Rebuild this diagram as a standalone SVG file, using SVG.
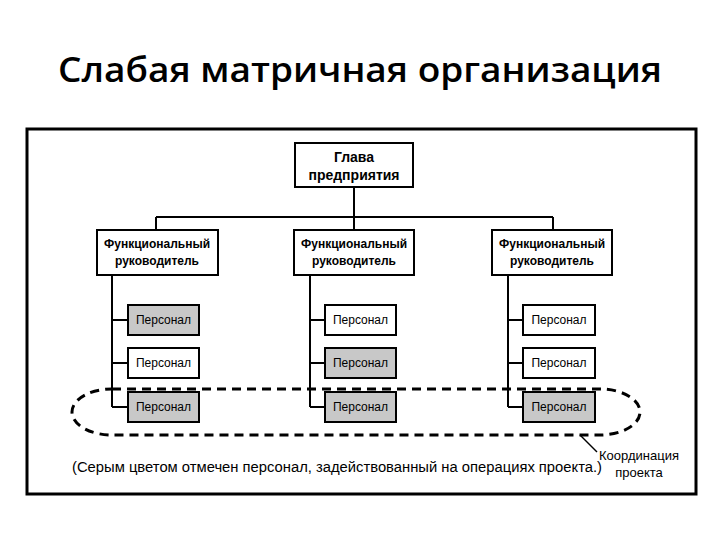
<svg xmlns="http://www.w3.org/2000/svg" width="720" height="540" viewBox="0 0 720 540">
<style>
.b{fill:#fff;stroke:#000;stroke-width:2}
.g{fill:#c8c8c8;stroke:#000;stroke-width:2}
.t{font-family:"Liberation Sans",Arial,sans-serif;font-size:12px;text-anchor:middle}
.tb{font-family:"Liberation Sans",Arial,sans-serif;font-size:12px;font-weight:bold;text-anchor:middle}
.l{fill:none;stroke:#000;stroke-width:2}
</style>
<rect width="720" height="540" fill="#fff"/>
<text x="360" y="82" font-family="Open Sans,sans-serif" font-size="35" font-weight="600" text-anchor="middle" textLength="604" lengthAdjust="spacingAndGlyphs">Слабая матричная организация</text>
<rect x="27" y="129" width="669" height="365" fill="none" stroke="#000" stroke-width="3"/>
<g id="connectors">
<path class="l" d="M354 187V230M156 217H553M156 217V230M553 217V230"/>
<path class="l" d="M112 275V407M112 320H128M112 363H128M112 407H128"/>
<path class="l" d="M310 275V407M310 320H325M310 363H325M310 407H325"/>
<path class="l" d="M508 275V407M508 320H523M508 363H523M508 407H523"/>
<rect x="72" y="389" width="568" height="46" rx="40" ry="23" fill="none" stroke="#000" stroke-width="3" stroke-dasharray="9 6"/>
<path d="M580 435L597 452" stroke="#000" stroke-width="1.5"/>
</g>
<g id="head"><rect class="b" x="295" y="143" width="118" height="44"/><text class="tb" x="354" y="162" style="font-size:14px">Глава</text><text class="tb" x="354" y="180" style="font-size:14px">предприятия</text></g>
<g id="f1"><rect class="b" x="97" y="230" width="121" height="45"/><text class="tb" x="157" y="248">Функциональный</text><text class="tb" x="157" y="265">руководитель</text></g>
<g id="f2"><rect class="b" x="294" y="230" width="120" height="45"/><text class="tb" x="354" y="248">Функциональный</text><text class="tb" x="354" y="265">руководитель</text></g>
<g id="f3"><rect class="b" x="492" y="230" width="120" height="45"/><text class="tb" x="552" y="248">Функциональный</text><text class="tb" x="552" y="265">руководитель</text></g>
<g id="p11"><rect class="g" x="128" y="305" width="71" height="30"/><text class="t" x="163.5" y="324">Персонал</text></g>
<g id="p12"><rect class="b" x="128" y="348" width="71" height="30"/><text class="t" x="163.5" y="367">Персонал</text></g>
<g id="p13"><rect class="g" x="128" y="392" width="71" height="30"/><text class="t" x="163.5" y="411">Персонал</text></g>
<g id="p21"><rect class="b" x="325" y="305" width="71" height="30"/><text class="t" x="360.5" y="324">Персонал</text></g>
<g id="p22"><rect class="g" x="325" y="348" width="71" height="30"/><text class="t" x="360.5" y="367">Персонал</text></g>
<g id="p23"><rect class="g" x="325" y="392" width="71" height="30"/><text class="t" x="360.5" y="411">Персонал</text></g>
<g id="p31"><rect class="b" x="523" y="305" width="72" height="30"/><text class="t" x="559" y="324">Персонал</text></g>
<g id="p32"><rect class="b" x="523" y="348" width="72" height="30"/><text class="t" x="559" y="367">Персонал</text></g>
<g id="p33"><rect class="g" x="523" y="392" width="72" height="30"/><text class="t" x="559" y="411">Персонал</text></g>
<text x="72" y="472" font-family="Liberation Sans,Arial,sans-serif" font-size="14" textLength="530" lengthAdjust="spacingAndGlyphs">(Серым цветом отмечен персонал, задействованный на операциях проекта.)</text>
<text class="t" x="639" y="460" style="font-size:13px">Координация</text>
<text class="t" x="639" y="477" style="font-size:13px">проекта</text>
</svg>
